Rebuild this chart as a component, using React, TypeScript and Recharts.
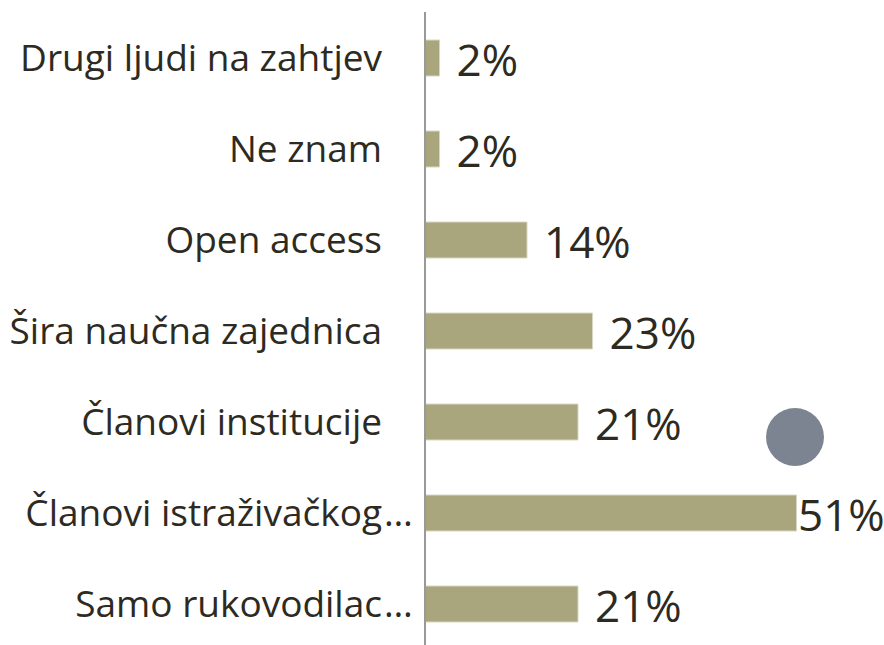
import { BarChart, Bar, XAxis, YAxis, LabelList } from 'recharts';

const categories = [
  'Drugi ljudi na zahtjev',
  'Ne znam',
  'Open access',
  'Šira naučna zajednica',
  'Članovi institucije',
  'Članovi istraživačkog…',
  'Samo rukovodilac…',
];
const shares = [2, 2, 14, 23, 21, 51, 21];

const data = categories.map((name, i) => ({ name, value: shares[i] }));

const CHART_W = 884;
const CHART_H = 645;
const FONT = '"Open Sans", sans-serif';
const TEXT = '#2d2a22';

const CategoryTick = (props: any) => {
  const { x, y, payload } = props;
  const label: string = payload.value;
  const cut = label.endsWith('…');
  const main = cut ? label.slice(0, -1) : label;
  return (
    <g>
      <text x={x} y={y} dy={13} textAnchor="end" fontFamily={FONT} fontSize={37} fill={TEXT}>
        {main}
      </text>
      {cut && (
        <text x={x + 2} y={y} dy={13} textAnchor="start" fontFamily={FONT} fontSize={37} fill={TEXT}>
          …
        </text>
      )}
    </g>
  );
};

const ValueLabel = (props: any) => {
  const { x, y, width, height, value } = props;
  const lx = Math.min(x + width + 17, CHART_W - 86);
  return (
    <text x={lx} y={y + height} dy={0} fontFamily={FONT} fontSize={44} fill={TEXT}>
      {value}%
    </text>
  );
};

export default function App() {
  return (
    <div
      style={{
        position: 'absolute',
        left: 0,
        top: 0,
        width: CHART_W,
        height: CHART_H,
        overflow: 'hidden',
        background: '#fff',
      }}
    >
      <div
        style={{
          position: 'absolute',
          left: 766,
          top: 408,
          width: 58,
          height: 58,
          borderRadius: '50%',
          background: '#7d8491',
        }}
      />
      <BarChart
        width={CHART_W}
        height={649}
        data={data}
        layout="vertical"
        margin={{ top: 12, right: 0, bottom: 0, left: 0 }}
        style={{ position: 'absolute', left: 0, top: 0 }}
      >
        <XAxis type="number" domain={[0, 63]} hide />
        <YAxis
          type="category"
          dataKey="name"
          width={425}
          axisLine={{ stroke: '#999999', strokeWidth: 2 }}
          tickLine={false}
          tickSize={0}
          tickMargin={43}
          tick={<CategoryTick />}
          interval={0}
        />
        <Bar dataKey="value" fill="#a9a67d" stroke="#d9d7c4" strokeWidth={1} barSize={36} isAnimationActive={false}>
          <LabelList dataKey="value" content={<ValueLabel />} />
        </Bar>
      </BarChart>
    </div>
  );
}
